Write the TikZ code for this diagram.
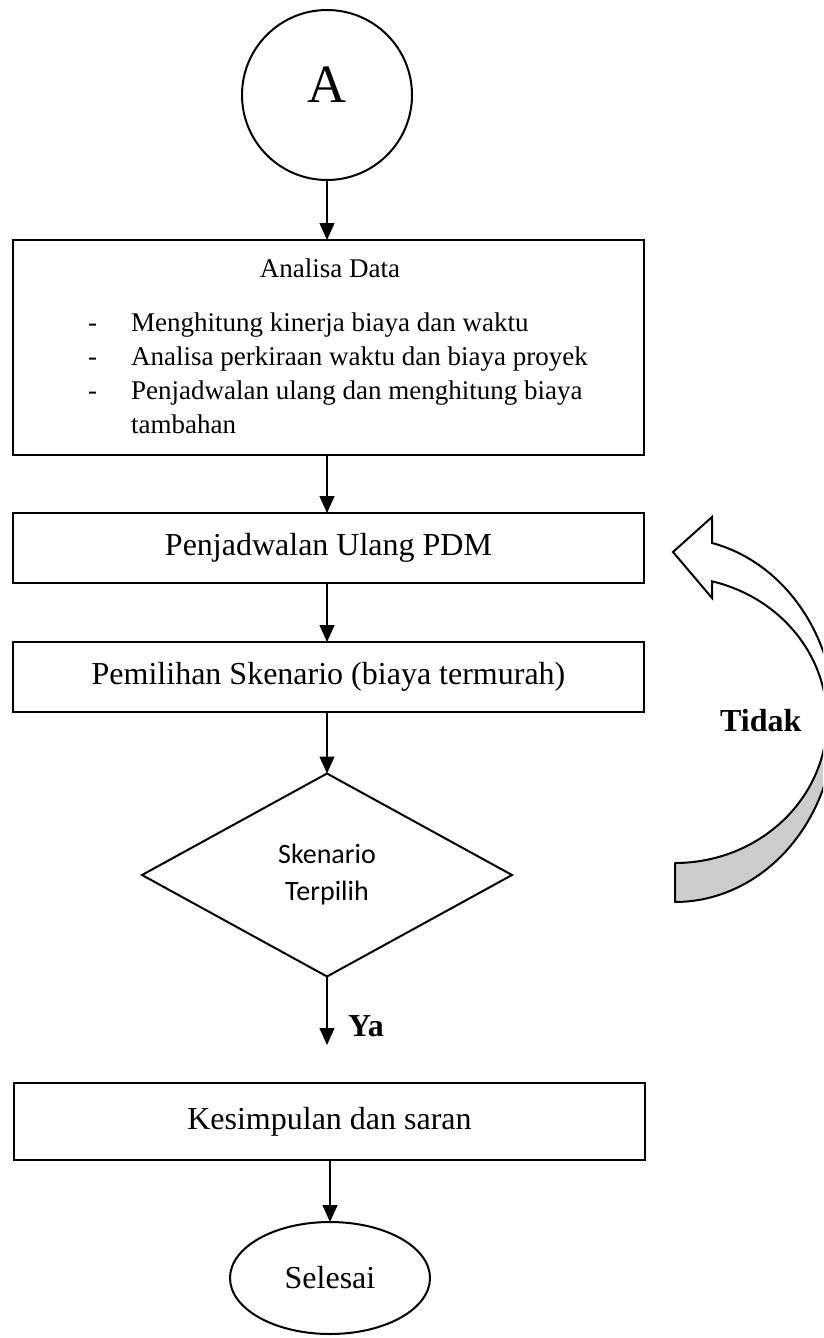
\documentclass[tikz,border=0pt]{standalone}
\usepackage{fontspec}
\setmainfont{Liberation Serif}
\newfontfamily\calibrifont{Carlito}
\usetikzlibrary{shapes.geometric,arrows.meta}
\begin{document}
\begin{tikzpicture}[x=1pt,y=-1pt,
  box/.style={draw, line width=2.2pt, rectangle, inner sep=0pt, outer sep=0pt, minimum width=631pt},
  conn/.style={line width=1.2pt, -{Triangle[length=17pt,width=15pt]}},
  big/.style={font=\fontsize{32}{38}\selectfont},
  small/.style={font=\fontsize{27}{31}\selectfont, inner sep=0pt},
  lbl/.style={font=\bfseries\fontsize{32}{38}\selectfont, inner sep=0pt}]
\useasboundingbox (0,0) rectangle (823,1338);

% start connector
\node[circle, draw, line width=2pt, minimum size=170pt, inner sep=0pt, outer sep=0pt] (A) at (327,95) {};
\node[font=\fontsize{54}{60}\selectfont, inner sep=0pt] (Alabel) at (327,85) {A};

% box 1
\node[box, minimum height=215pt] (b1) at (328.5,347.5) {};
\node[small, anchor=base] (t0) at (330,277) {Analisa Data};
\node[small, anchor=base west] (d1) at (88,331) {-};
\node[small, anchor=base west] (t1) at (131,331) {Menghitung kinerja biaya dan waktu};
\node[small, anchor=base west] (d2) at (88,365) {-};
\node[small, anchor=base west] (t2) at (131,365) {Analisa perkiraan waktu dan biaya proyek};
\node[small, anchor=base west] (d3) at (88,399) {-};
\node[small, anchor=base west] (t3) at (131,399) {Penjadwalan ulang dan menghitung biaya};
\node[small, anchor=base west] (t4) at (131,433) {tambahan};

% box 2, 3
\node[box, minimum height=70pt, big] (b2) at (328.5,548) {Penjadwalan Ulang PDM};
\node[box, minimum height=70pt, big] (b3) at (328.5,677) {Pemilihan Skenario (biaya termurah)};

% decision
\node[diamond, draw, line width=2pt, minimum width=370pt, minimum height=203pt, inner sep=0pt,
      outer sep=0pt, align=center, font=\calibrifont\fontsize{28}{37}\selectfont] (d) at (327,875)
      {Skenario\\Terpilih};
\coordinate (yaend) at (327,1045);
\node[lbl, anchor=base west] (ya) at (348,1036) {Ya};

% box 4
\node[box, minimum height=77pt, big] (b4) at (329.5,1121.5) {Kesimpulan dan saran};

% end
\node[ellipse, draw, line width=2pt, minimum width=200pt, minimum height=112pt, inner sep=0pt,
      outer sep=0pt, big] (e) at (330,1278) {Selesai};

% connectors
\draw[conn] (A.south) -- (A.south |- b1.north);
\draw[conn] (A.south |- b1.south) -- (A.south |- b2.north);
\draw[conn] (A.south |- b2.south) -- (A.south |- b3.north);
\draw[conn] (A.south |- b3.south) -- (d.north);
\draw[conn] (d.south) -- (yaend);
\draw[conn] (e.north |- b4.south) -- (e.north);

% curved "Tidak" arrow
\begin{scope}
\clip (0,0) rectangle (823,1338);
\draw[line width=2pt, fill=black!20, line join=round]
  plot[domain=0:90, samples=60] ({675+160*cos(\x)},{720+182*sin(\x)})
  -- plot[domain=90:0, samples=60] ({675+152*cos(\x)},{720+143*sin(\x)}) -- cycle;
\draw[line width=2pt, fill=white, line join=miter]
  (712,517) -- plot[domain=-76.6:0, samples=60] ({675+160*cos(\x)},{720+182*sin(\x)})
  -- plot[domain=0:-75.9, samples=60] ({675+152*cos(\x)},{720+143*sin(\x)})
  -- (712,598) -- (673,552) -- cycle;
\end{scope}
\node[lbl, anchor=base west] (tidak) at (720,731) {Tidak};
\end{tikzpicture}
\end{document}
